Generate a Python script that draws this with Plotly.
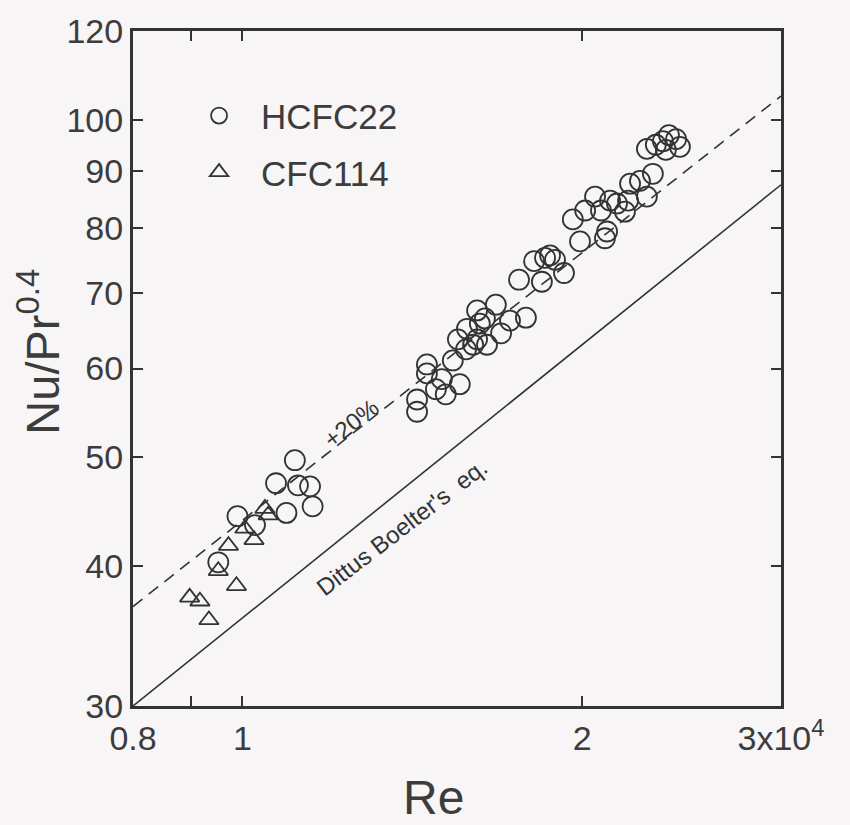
import plotly.graph_objects as go

# ---------------- data (Re in units of 10^4) ----------------
hcfc22_re = [0.952, 0.990, 1.026, 1.071, 1.113, 1.120, 1.148, 1.094, 1.154,
             1.428, 1.428, 1.457, 1.457, 1.484, 1.502, 1.514, 1.536, 1.558, 1.552,
             1.578, 1.601, 1.581, 1.614, 1.623, 1.640, 1.614, 1.647, 1.677, 1.695,
             1.726, 1.783,
             1.758, 1.813, 1.842, 1.854, 1.873, 1.892, 1.927, 1.962, 1.991, 2.012,
             2.053, 2.078, 2.095, 2.104, 2.117, 2.147, 2.182, 2.196, 2.205, 2.250,
             2.282, 2.310,
             2.282, 2.324, 2.358, 2.387, 2.422, 2.441, 2.372]
hcfc22_nu = [40.3, 44.3, 43.5, 47.4, 49.7, 47.2, 47.1, 44.6, 45.2,
             56.3, 54.9, 60.5, 59.4, 57.5, 58.7, 56.9, 61.0, 58.1, 63.7,
             62.4, 63.0, 65.1, 67.6, 65.8, 66.5, 63.7, 63.0, 68.4, 64.5,
             66.2, 66.6,
             72.0, 74.8, 71.7, 75.3, 75.7, 75.0, 73.0, 81.5, 77.9, 83.0,
             85.4, 83.0, 78.4, 79.5, 84.7, 84.2, 82.8, 84.7, 87.7, 88.2,
             85.4, 89.5,
             94.2, 95.0, 95.7, 96.9, 96.1, 94.6, 94.0]

cfc114_re = [0.898, 0.917, 0.934, 0.952, 0.972, 0.988, 1.005, 1.024, 1.047, 1.054]
cfc114_nu = [37.5, 37.2, 35.8, 39.6, 41.7, 38.4, 43.2, 42.2, 45.0, 44.4]

# correlation lines (end points)
line_re = [0.8, 3.0]
dittus_nu = [30.0, 87.5]
plus20_nu = [36.8, 105.0]

x_tickvals = [0.8, 1, 2, 3]
x_ticktext = ["0.8", "1", "2", "3x10<sup>4</sup>"]
x_minorvals = [0.9]
y_tickvals = [30, 40, 50, 60, 70, 80, 90, 100, 120]
y_ticktext = ["30", "40", "50", "60", "70", "80", "90", "100", "120"]

INK = "#333333"
LABEL = "#3c3c3c"
BG = "#f7f5f6"
FONT = "Liberation Sans"

fig = go.Figure()

fig.add_trace(go.Scatter(x=line_re, y=dittus_nu, mode="lines",
                         line=dict(color=INK, width=1.6), showlegend=False))
fig.add_trace(go.Scatter(x=line_re, y=plus20_nu, mode="lines",
                         line=dict(color=INK, width=1.6, dash="12px,8px"),
                         showlegend=False))

fig.add_trace(go.Scatter(x=hcfc22_re, y=hcfc22_nu, mode="markers", name="HCFC22",
                         legendgroup="a",
                         marker=dict(symbol="circle-open", size=20, color=INK,
                                     line=dict(width=1.8))))
fig.add_trace(go.Scatter(x=cfc114_re, y=cfc114_nu, mode="markers", name="CFC114",
                         legendgroup="b",
                         marker=dict(symbol="triangle-up-open", size=17, color=INK,
                                     line=dict(width=1.8))))

axis_common = dict(type="log", showline=True, linewidth=3, linecolor=INK,
                   mirror="ticks", ticks="inside", ticklen=10, tickwidth=2,
                   tickcolor=INK, showgrid=False, zeroline=False,
                   tickfont=dict(family=FONT, size=34, color=LABEL))

fig.update_xaxes(range=[-0.09691, 0.47712], tickmode="array",
                 tickvals=x_tickvals, ticktext=x_ticktext,
                 minor=dict(tickmode="array", tickvals=x_minorvals, ticks="inside",
                            ticklen=10, tickwidth=2, tickcolor=INK, showgrid=False),
                 **axis_common)
fig.update_yaxes(range=[1.47712, 2.07918], tickmode="array",
                 tickvals=y_tickvals, ticktext=y_ticktext, **axis_common)

fig.add_annotation(text="Re", xref="paper", yref="paper", x=0.463, y=-0.135,
                   showarrow=False, xanchor="center", yanchor="middle",
                   font=dict(family=FONT, size=48, color=LABEL))
fig.add_annotation(text="Nu/Pr<sup>0.4</sup>", xref="paper", yref="paper",
                   x=-0.145, y=0.525, textangle=-90, showarrow=False,
                   xanchor="center", yanchor="middle",
                   font=dict(family=FONT, size=47, color=LABEL))
fig.add_annotation(text="+20%", xref="paper", yref="paper", x=0.336, y=0.419,
                   textangle=-38, showarrow=False, xanchor="center",
                   yanchor="middle", font=dict(family=FONT, size=24, color=INK))
fig.add_annotation(text="Dittus Boelter's  eq.", xref="paper", yref="paper",
                   x=0.414, y=0.265, textangle=-37.5, showarrow=False,
                   xanchor="center", yanchor="middle",
                   font=dict(family=FONT, size=24, color=INK))

fig.update_layout(
    width=850, height=825,
    margin=dict(l=133, r=69, t=25, b=119),
    paper_bgcolor=BG, plot_bgcolor=BG,
    legend=dict(x=0.068, y=0.918, xanchor="left", yanchor="top",
                itemwidth=74, tracegroupgap=8,
                bgcolor="rgba(0,0,0,0)",
                font=dict(family=FONT, size=35, color=LABEL)),
)

fig.write_html("out.html")
